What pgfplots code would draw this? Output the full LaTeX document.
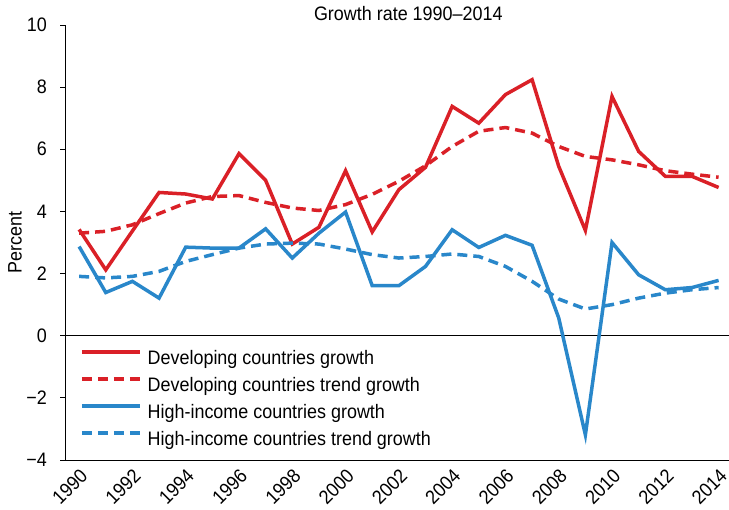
\documentclass[border=0pt]{standalone}
\usepackage{fontspec}
\setmainfont{Liberation Sans}[FakeStretch=0.92]
\usepackage{pgfplots}
\usepackage{pgfplotstable}
\pgfplotsset{compat=1.18}
\definecolor{devred}{RGB}{218,32,39}
\definecolor{hiblue}{RGB}{41,135,202}
\newcommand\chartfont{\fontsize{19.5bp}{23bp}\selectfont}

\pgfplotstableread{
year devg devt hig hit
1990 3.42 3.30 2.87 1.91
1991 2.12 3.36 1.39 1.86
1992 3.37 3.57 1.75 1.91
1993 4.61 3.93 1.21 2.07
1994 4.56 4.27 2.85 2.39
1995 4.40 4.48 2.82 2.61
1996 5.86 4.51 2.82 2.82
1997 5.00 4.29 3.44 2.95
1998 2.95 4.11 2.50 2.98
1999 3.49 4.03 3.30 2.95
2000 5.31 4.22 3.98 2.79
2001 3.34 4.55 1.61 2.61
2002 4.70 4.97 1.61 2.50
2003 5.42 5.47 2.23 2.55
2004 7.38 6.09 3.41 2.63
2005 6.84 6.58 2.84 2.55
2006 7.76 6.70 3.23 2.23
2007 8.24 6.52 2.91 1.75
2008 5.45 6.09 0.57 1.18
2009 3.39 5.77 -3.19 0.86
2010 7.70 5.66 3.00 1.00
2011 5.93 5.50 1.96 1.21
2012 5.13 5.31 1.48 1.37
2013 5.13 5.20 1.55 1.48
2014 4.77 5.10 1.78 1.55
}\growth

\begin{document}
\begin{tikzpicture}
\useasboundingbox (0,0) rectangle (729bp,510bp);
\begin{axis}[
  at={(65bp,50bp)}, anchor=south west,
  scale only axis, width=664bp, height=435bp,
  xmin=1989.47, xmax=2014.39, ymin=-4, ymax=10,
  axis x line*=bottom, axis y line*=left,
  axis line style={-, line width=0.8bp, black},
  xtick={1990,1992,1994,1996,1998,2000,2002,2004,2006,2008,2010,2012,2014},
  xticklabels={1990,1992,1994,1996,1998,2000,2002,2004,2006,2008,2010,2012,2014},
  x tick style={draw=none},
  ytick={-4,-2,0,2,4,6,8,10},
  yticklabels={−4,−2,0,2,4,6,8,10},
  y tick style={line width=0.8bp, black},
  major tick length=5bp, tick align=outside,
  tick label style={font=\chartfont},
  xticklabel style={rotate=45, anchor=east, inner sep=0pt, xshift=-2bp, yshift=-9bp},
  yticklabel style={anchor=east, inner sep=0pt, xshift=-13bp},
  ylabel={Percent},
  every axis y label/.style={at={(rel axis cs:0,0.5)}, rotate=90, anchor=center, yshift=50bp, font=\chartfont},
  title={Growth rate 1990–2014},
  title style={at={(rel axis cs:0.517,1)}, anchor=south, inner sep=0pt, yshift=-2bp, font=\chartfont},
  legend style={at={(rel axis cs:0.0226,0.2529)}, anchor=north west, draw=none, fill=none,
    font=\chartfont, inner sep=0pt, row sep=9bp, column sep=6bp,
    nodes={inner sep=0pt, text height=14bp, text depth=4bp}},
  legend cell align=left,
  legend image code/.code={\draw[#1] (0bp,7bp) -- (58bp,7bp);},
]
\addplot[black, line width=0.8bp, forget plot] coordinates {(1989.47,0) (2014.39,0)};
\addplot[devred, line width=3.5bp] table[x=year, y=devg] {\growth};
\addlegendentry{Developing countries growth}
\addplot[devred, line width=3.5bp, dash pattern=on 10bp off 6bp] table[x=year, y=devt] {\growth};
\addlegendentry{Developing countries trend growth}
\addplot[hiblue, line width=3.5bp] table[x=year, y=hig] {\growth};
\addlegendentry{High-income countries growth}
\addplot[hiblue, line width=3.5bp, dash pattern=on 10bp off 6bp] table[x=year, y=hit] {\growth};
\addlegendentry{High-income countries trend growth}
\end{axis}
\end{tikzpicture}
\end{document}
